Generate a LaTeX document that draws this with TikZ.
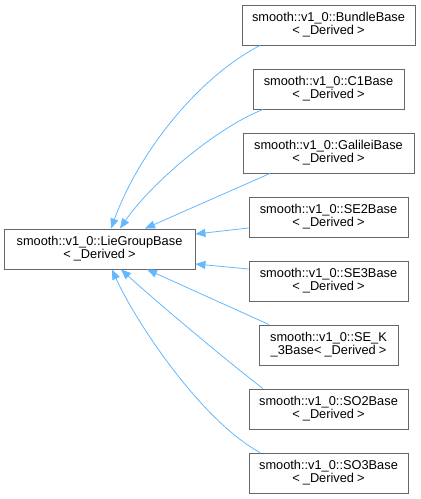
\documentclass[tikz,border=0pt]{standalone}
\usepackage{fontspec}
\setmainfont{Liberation Sans}
\usetikzlibrary{arrows.meta}
\definecolor{edgeblue}{HTML}{63B8FF}
\definecolor{boxgray}{HTML}{666666}
\newcommand{\tmpl}{<\kern3pt\_Derived\kern3pt>}
\begin{document}
\begin{tikzpicture}[x=1pt,y=-1pt,
  cls/.style={draw=boxgray, line width=0.9pt, fill=white, align=center, inner sep=0pt,
    minimum height=40pt, font=\fontsize{12.8}{12.9}\selectfont},
  inh/.style={draw=edgeblue, line width=0.8pt, -{Triangle[length=10pt,width=8pt,fill=edgeblue]}}]
\useasboundingbox (0,0) rectangle (421,499);
\node[cls, minimum width=191pt] (lie) at (99.5,249) {smooth::v1\_0::LieGroupBase\\\tmpl};
\node[cls, minimum width=173pt] (bundle) at (328.5,25) {smooth::v1\_0::BundleBase\\\tmpl};
\node[cls, minimum width=151pt] (c1) at (328.5,89) {smooth::v1\_0::C1Base\\\tmpl};
\node[cls, minimum width=171pt] (galilei) at (328.5,153) {smooth::v1\_0::GalileiBase\\\tmpl};
\node[cls, minimum width=159pt] (se2) at (328.5,217) {smooth::v1\_0::SE2Base\\\tmpl};
\node[cls, minimum width=159pt] (se3) at (328.5,281) {smooth::v1\_0::SE3Base\\\tmpl};
\node[cls, minimum width=139pt] (sek3) at (328.5,345) {smooth::v1\_0::SE\_K\\\_3Base\tmpl};
\node[cls, minimum width=159pt] (so2) at (328.5,409) {smooth::v1\_0::SO2Base\\\tmpl};
\node[cls, minimum width=159pt] (so3) at (328.5,473) {smooth::v1\_0::SO3Base\\\tmpl};
\draw[inh] ([xshift=-68.5pt]bundle.south) .. controls +(-60,31) and +(29,-79) .. ([xshift=11.5pt]lie.north);
\draw[inh] ([xshift=-65.5pt]c1.south) .. controls +(-48,19) and +(30,-44) .. ([xshift=20.5pt]lie.north);
\draw[inh] ([xshift=-58.5pt]galilei.south) -- ([xshift=45.5pt]lie.north);
\draw[inh] ([yshift=-11pt]se2.west) -- ([yshift=15pt]lie.east);
\draw[inh] ([yshift=12pt]se3.west) -- ([yshift=-15pt]lie.east);
\draw[inh] ([xshift=-59.5pt]sek3.north) -- ([xshift=47.5pt]lie.south);
\draw[inh] ([xshift=-65.5pt]so2.north) .. controls +(-38,-29) and +(34,31) .. ([xshift=21.5pt]lie.south);
\draw[inh] ([xshift=-68.5pt]so3.north) .. controls +(-60,-33) and +(23,51) .. ([xshift=12.5pt]lie.south);
\end{tikzpicture}
\end{document}
